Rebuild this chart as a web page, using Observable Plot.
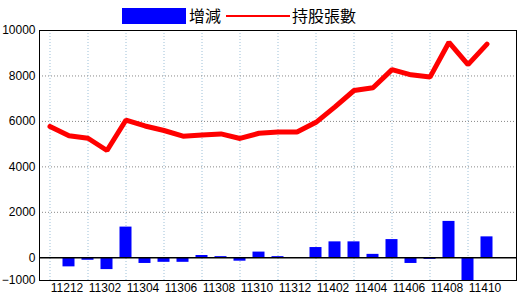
<!DOCTYPE html>
<html><head><meta charset="utf-8">
<script src="https://cdn.jsdelivr.net/npm/d3@7"></script>
<script src="https://cdn.jsdelivr.net/npm/@observablehq/plot@0.6"></script>
<style>
body{margin:0;background:#fff}
#wrap{position:relative;width:520px;height:300px;font-family:"Liberation Sans",Arial,sans-serif}
#legend{position:absolute;left:0;top:0;width:520px;height:30px;font-family:"Noto Sans CJK TC",sans-serif;font-size:16px;color:#000;z-index:2}
#legend .sw{position:absolute}
#legend .lb{position:absolute;top:5px;line-height:20px}
</style></head><body><div id="wrap"><div id="legend">
<div class="sw" style="left:122px;top:8px;width:64px;height:16px;background:#0000ff"></div>
<div class="lb" style="left:189px">增減</div>
<div class="sw" style="left:226px;top:15px;width:64px;height:2px;background:#ff0000"></div>
<div class="lb" style="left:292px">持股張數</div>
</div></div>
<script>
// all month slots on the x axis
const months = ["11211","11212","11301","11302","11303","11304","11305","11306","11307","11308","11309","11310","11311","11312","11401","11402","11403","11404","11405","11406","11407","11408","11409","11410","11411"];
// 持股張數 (line)
const holdMonths = ["11211","11212","11301","11302","11303","11304","11305","11306","11307","11308","11309","11310","11311","11312","11401","11402","11403","11404","11405","11406","11407","11408","11409","11410"];
const holdings = [5780,5370,5260,4720,6060,5800,5600,5350,5400,5450,5250,5480,5530,5530,5960,6640,7360,7480,8280,8050,7950,9480,8500,9400];
// 增減 (bars)
const changeMonths = ["11212","11301","11302","11303","11304","11305","11306","11307","11308","11309","11310","11311","11312","11401","11402","11403","11404","11405","11406","11407","11408","11409","11410"];
const changes = [-400,-110,-520,1350,-250,-200,-200,100,50,-150,250,50,0,450,700,700,150,800,-250,-70,1600,-1000,920];
// tick labels / gridlines
const xLabels = ["11212","11302","11304","11306","11308","11310","11312","11402","11404","11406","11408","11410"];
const xGrid = ["11211","11301","11303","11305","11307","11309","11311","11401","11403","11405","11407","11409"];
const yTicks = [-1000,0,2000,4000,6000,8000,10000];
const yGrid = [2000,4000,6000,8000];

const lineData = holdMonths.map((m,i)=>({month:m,value:holdings[i]}));
const barData = changeMonths.map((m,i)=>({month:m,value:changes[i]}));

const chart = Plot.plot({
  width:520, height:300,
  marginLeft:39, marginRight:4, marginTop:30, marginBottom:20,
  style:{fontFamily:'"Liberation Sans",Arial,sans-serif', fontSize:"12px", color:"#000", background:"transparent"},
  x:{type:"band", domain:months, padding:0, axis:null, label:null},
  y:{domain:[-1000,10000], axis:null, label:null},
  marks:[
    Plot.ruleX(xGrid, {x:d=>d, stroke:"#9dc0d8", strokeDasharray:"1,2"}),
    Plot.ruleY(yGrid, {y:d=>d, stroke:"#888", strokeDasharray:"1,2"}),
    Plot.barY(barData, {x:"month", y:"value", fill:"#0000ff", insetLeft:3.5, insetRight:3.5}),
    Plot.ruleY([0], {stroke:"#000", strokeWidth:1.5}),
    Plot.lineY(lineData, {x:"month", y:"value", stroke:"#ff0000", strokeWidth:5, strokeLinejoin:"miter"}),
    Plot.frame({stroke:"#000"}),
    Plot.axisX(xLabels, {tickSize:0, tickPadding:3, fontSize:12, dx:-2, label:null}),
    Plot.axisY(yTicks, {tickSize:0, tickPadding:4, fontSize:12, label:null, tickFormat:d3.format("d")})
  ]
});
document.getElementById("wrap").appendChild(chart);
chart.style.position="absolute"; chart.style.left="0"; chart.style.top="0";
</script></body></html>
